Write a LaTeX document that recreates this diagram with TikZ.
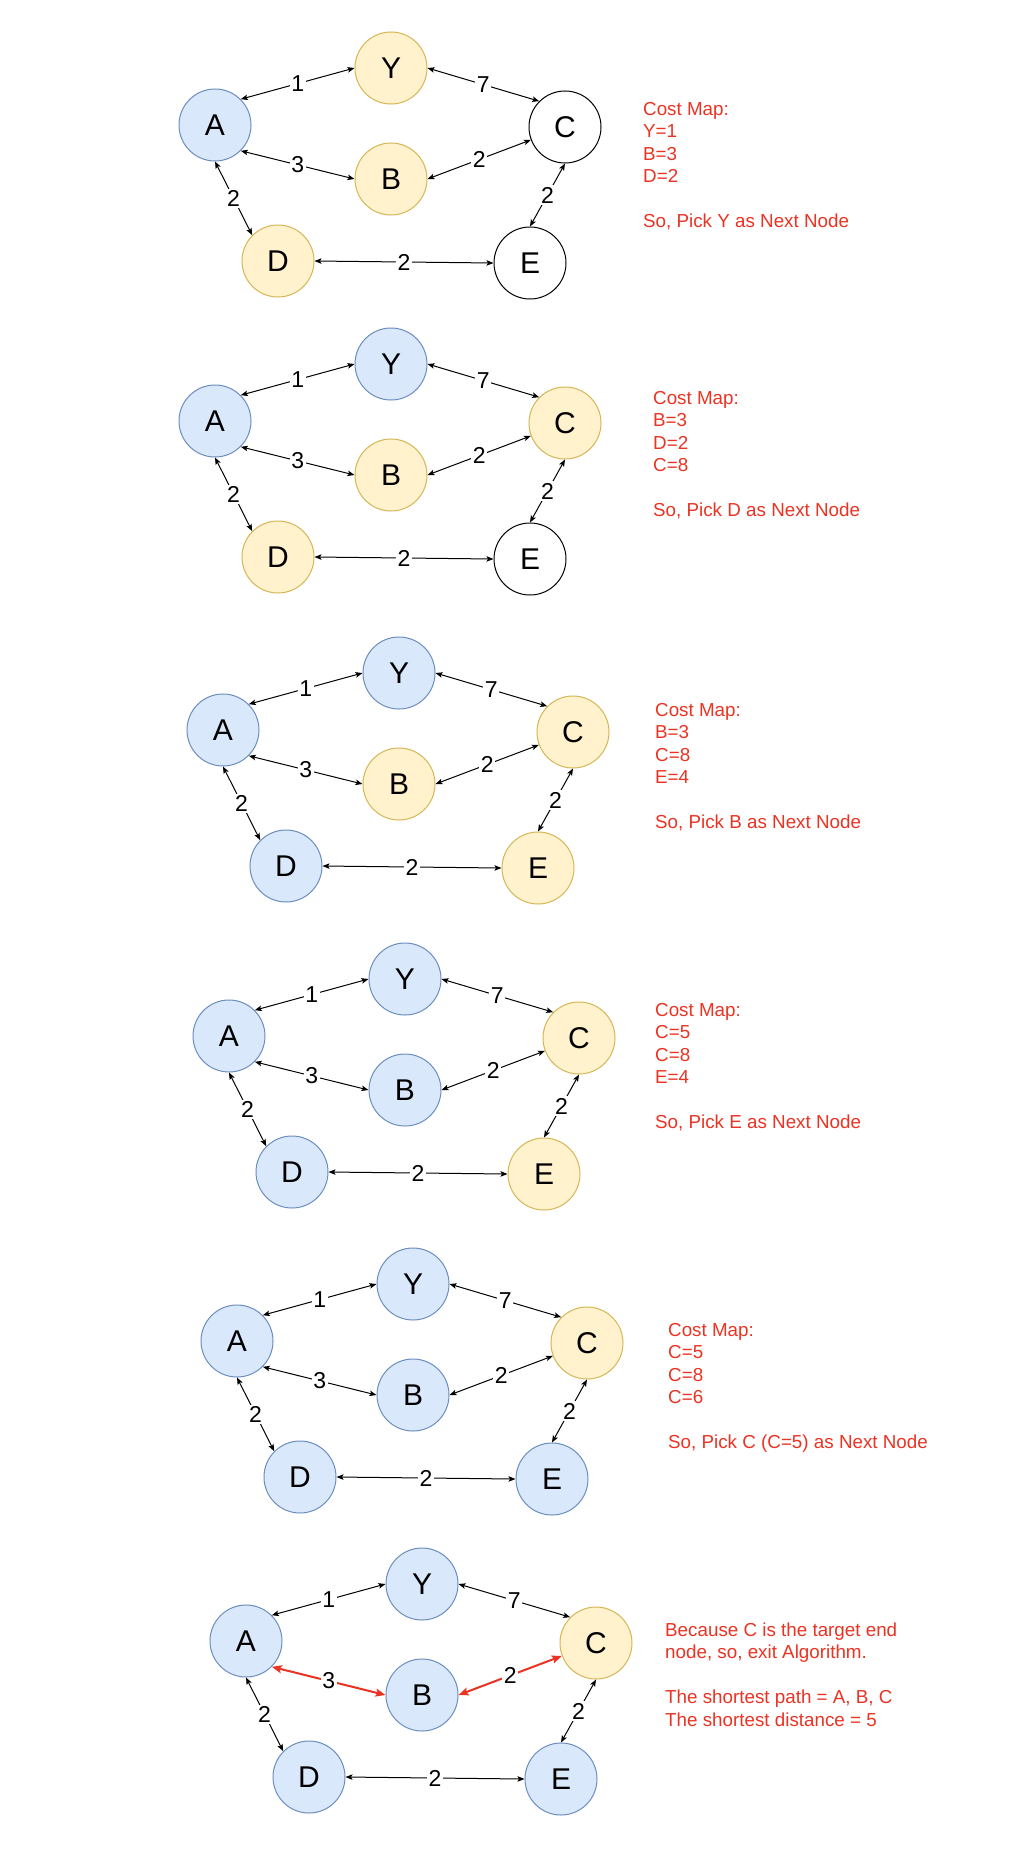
\documentclass[tikz,border=0pt]{standalone}
\usepackage{fontspec}
\setmainfont{Liberation Sans}
\usetikzlibrary{arrows.meta}
\definecolor{bfill}{HTML}{DAE8FC}
\definecolor{bline}{HTML}{6C8EBF}
\definecolor{yfill}{HTML}{FFF2CC}
\definecolor{yline}{HTML}{D6B656}
\definecolor{txtred}{RGB}{234,51,35}
\tikzset{
  vert/.style={circle, minimum size=72pt, inner sep=0pt, line width=1pt,
    font=\fontsize{30}{35}\selectfont},
  wnode/.style={draw=black, fill=white},
  bnode/.style={draw=bline, fill=bfill},
  ynode/.style={draw=yline, fill=yfill},
  edge/.style={line width=1pt, black, {Stealth[length=7pt,width=5.5pt,inset=1.5pt]}-{Stealth[length=7pt,width=5.5pt,inset=1.5pt]}},
  rededge/.style={line width=2pt, draw=txtred, {Stealth[length=10pt,width=8pt,inset=2pt]}-{Stealth[length=10pt,width=8pt,inset=2pt]}},
  plain/.style={},
  wlabel/.style={fill=white, inner sep=1.5pt, text=black, font=\fontsize{23}{27}\selectfont},
  costtxt/.style={text=txtred, align=left, inner sep=0pt, anchor=base west,
    font=\fontsize{18.8}{22.5}\selectfont},
}
\newcommand{\graphpanel}[9]{%
  \begin{scope}[shift={#2}]
    \node[vert,#3] (A#1) at (0,0) {A};
    \node[vert,#4] (Y#1) at (176,-57) {Y};
    \node[vert,#5] (C#1) at (350,2) {C};
    \node[vert,#6] (B#1) at (176,54) {B};
    \node[vert,#7] (D#1) at (63,136) {D};
    \node[vert,#8] (E#1) at (315,138) {E};
    \draw[edge] (A#1.45) -- node[wlabel]{1} (Y#1.west);
    \draw[edge] (Y#1.east) -- node[wlabel]{7} (C#1.135);
    \draw[edge,#9] (A#1.-45) -- node[wlabel]{3} (B#1.west);
    \draw[edge,#9] (B#1.east) -- node[wlabel]{2} (C#1);
    \draw[edge] (A#1.south) -- node[wlabel]{2} (D#1.135);
    \draw[edge] (C#1.south) -- node[wlabel]{2} (E#1.north);
    \draw[edge] (D#1.east) -- node[wlabel]{2} (E#1.west);
  \end{scope}}
\begin{document}
\begin{tikzpicture}[x=1pt, y=-1pt]
  \useasboundingbox[fill=white] (0,0) rectangle (1010,1860);
  \graphpanel{1}{(215,125)}{bnode}{ynode}{wnode}{ynode}{ynode}{wnode}{plain}
  \node[costtxt] (T1) at (643,227.5) {Cost Map:\\Y=1\\B=3\\D=2\\[22.5pt]So, Pick Y as Next Node};
  \graphpanel{2}{(215,421)}{bnode}{bnode}{ynode}{ynode}{ynode}{wnode}{plain}
  \node[costtxt] (T2) at (653,516.5) {Cost Map:\\B=3\\D=2\\C=8\\[22.5pt]So, Pick D as Next Node};
  \graphpanel{3}{(223,730)}{bnode}{bnode}{ynode}{ynode}{bnode}{ynode}{plain}
  \node[costtxt] (T3) at (655,828.5) {Cost Map:\\B=3\\C=8\\E=4\\[22.5pt]So, Pick B as Next Node};
  \graphpanel{4}{(229,1036)}{bnode}{bnode}{ynode}{bnode}{bnode}{ynode}{plain}
  \node[costtxt] (T4) at (655,1128.5) {Cost Map:\\C=5\\C=8\\E=4\\[22.5pt]So, Pick E as Next Node};
  \graphpanel{5}{(237,1341)}{bnode}{bnode}{ynode}{bnode}{bnode}{bnode}{plain}
  \node[costtxt] (T5) at (668,1448.5) {Cost Map:\\C=5\\C=8\\C=6\\[22.5pt]So, Pick C (C=5) as Next Node};
  \graphpanel{6}{(246,1641)}{bnode}{bnode}{ynode}{bnode}{bnode}{bnode}{rededge}
  \node[costtxt] (T6) at (665,1726) {Because C is the target end\\node, so, exit Algorithm.\\[22.5pt]The shortest path = A, B, C\\The shortest distance = 5};
\end{tikzpicture}
\end{document}
